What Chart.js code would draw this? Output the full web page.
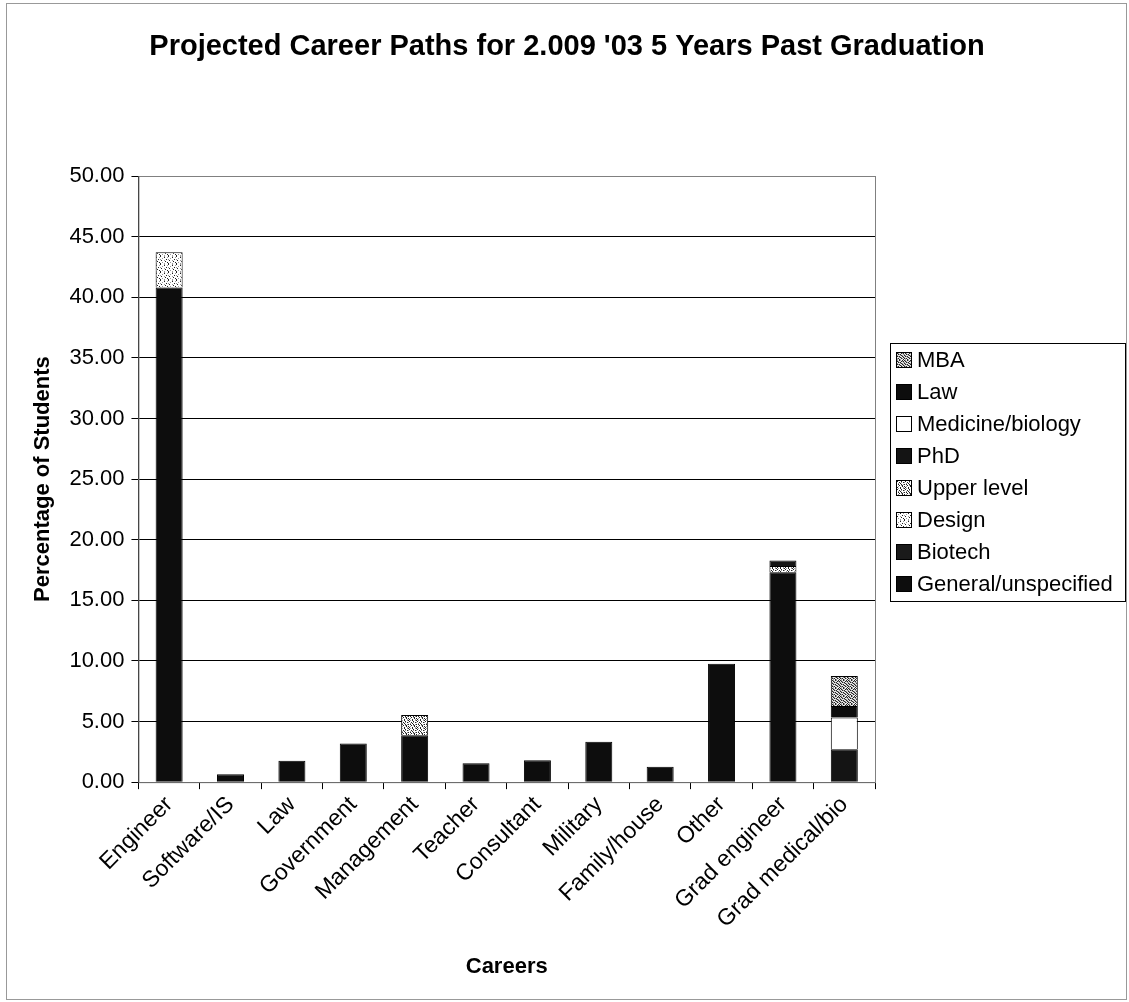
<!DOCTYPE html>
<html>
<head>
<meta charset="utf-8">
<title>Projected Career Paths</title>
<script src="https://cdn.jsdelivr.net/npm/chart.js@4.4.0/dist/chart.umd.min.js"></script>
<style>
  html, body { margin: 0; padding: 0; background: #fff; }
  #wrap { width: 1129px; height: 1002px; }
</style>
</head>
<body>
<div id="wrap"><canvas id="chart" width="1129" height="1002"></canvas></div>
<script>
// Categorias e séries
const careers = ['Engineer', 'Software/IS', 'Law', 'Government', 'Management', 'Teacher',
                 'Consultant', 'Military', 'Family/house', 'Other', 'Grad engineer', 'Grad medical/bio'];

const generalUnspecified = [40.8, 0.65, 1.76, 3.18, 3.87, 1.55, 1.81, 3.34, 1.28, 9.76, 17.32, 0];
const biotech            = [0, 0, 0, 0, 0, 0, 0, 0, 0, 0, 0, 0];
const design             = [2.9, 0, 0, 0, 0, 0, 0, 0, 0, 0, 0, 0];
const upperLevel         = [0, 0, 0, 0, 1.67, 0, 0, 0, 0, 0, 0.5, 0];
const phd                = [0, 0, 0, 0, 0, 0, 0, 0, 0, 0, 0.47, 2.72];
const medicineBiology    = [0, 0, 0, 0, 0, 0, 0, 0, 0, 0, 0, 2.61];
const law                = [0, 0, 0, 0, 0, 0, 0, 0, 0, 0, 0, 0.95];
const mba                = [0, 0, 0, 0, 0, 0, 0, 0, 0, 0, 0, 2.48];

const yMin = 0;
const yMax = 50;
const yStep = 5;

const chartTitle = "Projected Career Paths for 2.009 '03 5 Years Past Graduation";

// Texturas tipo Excel (preto e branco)
function makePattern(rows, dark, light) {
    const c = document.createElement('canvas');
    c.width = rows[0].length;
    c.height = rows.length;
    const g = c.getContext('2d');
    g.fillStyle = light;
    g.fillRect(0, 0, c.width, c.height);
    rows.forEach((row, y) => {
        for (let x = 0; x < row.length; x++) {
            if (row[x] === '#') { g.fillStyle = dark; g.fillRect(x, y, 1, 1); }
            else if (row[x] === '+') { g.fillStyle = '#9a9a9a'; g.fillRect(x, y, 1, 1); }
        }
    });
    return g.createPattern(c, 'repeat');
}

const ctx = document.getElementById('chart').getContext('2d');

const designFill = makePattern([
    '#...+...',
    '....#..+',
    '..+.....',
    '+.....#.',
    '.#..+...',
    '.....#..',
    '..+....#',
    '#...+...'
], '#222', '#fff');

const upperFill = makePattern([
    '#.+.#..+',
    '.#...#..',
    '+..#.+.#',
    '..+.#...',
    '#.#..#.+',
    '...#.+#.',
    '#.+...#.',
    '.#..#..+'
], '#222', '#fff');

const mbaFill = makePattern([
    '#+.#+.#.',
    '.#+..#+#',
    '+.#+#..+',
    '#+..+#+.',
    '.#+#..#+',
    '+..+#+.#',
    '#+#..#+.',
    '.+.#+..#'
], '#222', '#eee');

const seriesNames = ['General/unspecified', 'Biotech', 'Design', 'Upper level', 'PhD', 'Medicine/biology', 'Law', 'MBA'];
const seriesData  = [generalUnspecified, biotech, design, upperLevel, phd, medicineBiology, law, mba];
const seriesFill  = ['#0d0d0d', '#1a1a1a', designFill, upperFill, '#141414', '#fff', '#0d0d0d', mbaFill];

const fontFamily = '"Liberation Sans", Arial, sans-serif';

// Título, legenda com borda e molduras (estilo Excel)
const excelFrame = {
    id: 'excelFrame',
    afterDraw(chart) {
        const c = chart.ctx;
        c.save();
        c.fillStyle = '#000';
        c.textAlign = 'center';
        c.textBaseline = 'middle';
        c.font = 'bold 29px ' + fontFamily;
        c.fillText(chartTitle, 567, 47);

        const x0 = 890, y0 = 343, w = 235, h = 258;
        c.strokeStyle = '#000';
        c.lineWidth = 1;
        c.strokeRect(x0 + 0.5, y0 + 0.5, w, h);
        c.font = '22px ' + fontFamily;
        c.textAlign = 'left';
        const ds = chart.data.datasets;
        for (let i = ds.length - 1, k = 0; i >= 0; i--, k++) {
            const cy = y0 + 17 + k * 32;
            c.fillStyle = ds[i].backgroundColor;
            c.fillRect(x0 + 6, cy - 8, 16, 16);
            c.strokeStyle = '#000';
            c.strokeRect(x0 + 6.5, cy - 7.5, 15, 15);
            c.fillStyle = '#000';
            c.fillText(ds[i].label, x0 + 27, cy + 1);
        }
        const a = chart.chartArea;
        c.strokeStyle = '#808080';
        c.strokeRect(a.left + 0.5, a.top + 0.5, a.right - a.left, a.bottom - a.top);
        c.strokeStyle = '#999';
        c.strokeRect(6.5, 3.5, 1120, 996);
        c.restore();
    }
};

new Chart(ctx, {
    type: 'bar',
    data: {
        labels: careers,
        datasets: seriesNames.map((name, i) => ({
            label: name,
            data: seriesData[i],
            backgroundColor: seriesFill[i],
            borderColor: '#000',
            borderWidth: 1,
            categoryPercentage: 1,
            barPercentage: 0.44
        }))
    },
    options: {
        responsive: false,
        animation: false,
        devicePixelRatio: 1,
        layout: { padding: { top: 176, left: 26, right: 254, bottom: 22 } },
        plugins: {
            legend: { display: false },
            tooltip: { enabled: false },
            title: { display: false }
        },
        scales: {
            x: {
                stacked: true,
                grid: { display: true, drawOnChartArea: false, drawTicks: true, tickLength: 7, color: '#000', offset: true },
                border: { color: '#000' },
                ticks: {
                    color: '#000',
                    font: { family: fontFamily, size: 23 },
                    maxRotation: 45,
                    minRotation: 45,
                    padding: 2,
                    autoSkip: false
                },
                title: {
                    display: true,
                    text: 'Careers',
                    color: '#000',
                    font: { family: fontFamily, size: 22, weight: 'bold' },
                    padding: { top: 18, bottom: 0 }
                }
            },
            y: {
                stacked: true,
                min: yMin,
                max: yMax,
                grid: { color: '#000', lineWidth: 1, tickLength: 7 },
                border: { color: '#000' },
                ticks: {
                    stepSize: yStep,
                    color: '#000',
                    padding: 7,
                    font: { family: fontFamily, size: 22 },
                    callback: v => v.toFixed(2)
                },
                title: {
                    display: true,
                    text: 'Percentage of Students',
                    color: '#000',
                    font: { family: fontFamily, size: 22, weight: 'bold' },
                    padding: { top: 4, bottom: 6 }
                }
            }
        }
    },
    plugins: [excelFrame]
});
</script>
</body>
</html>
